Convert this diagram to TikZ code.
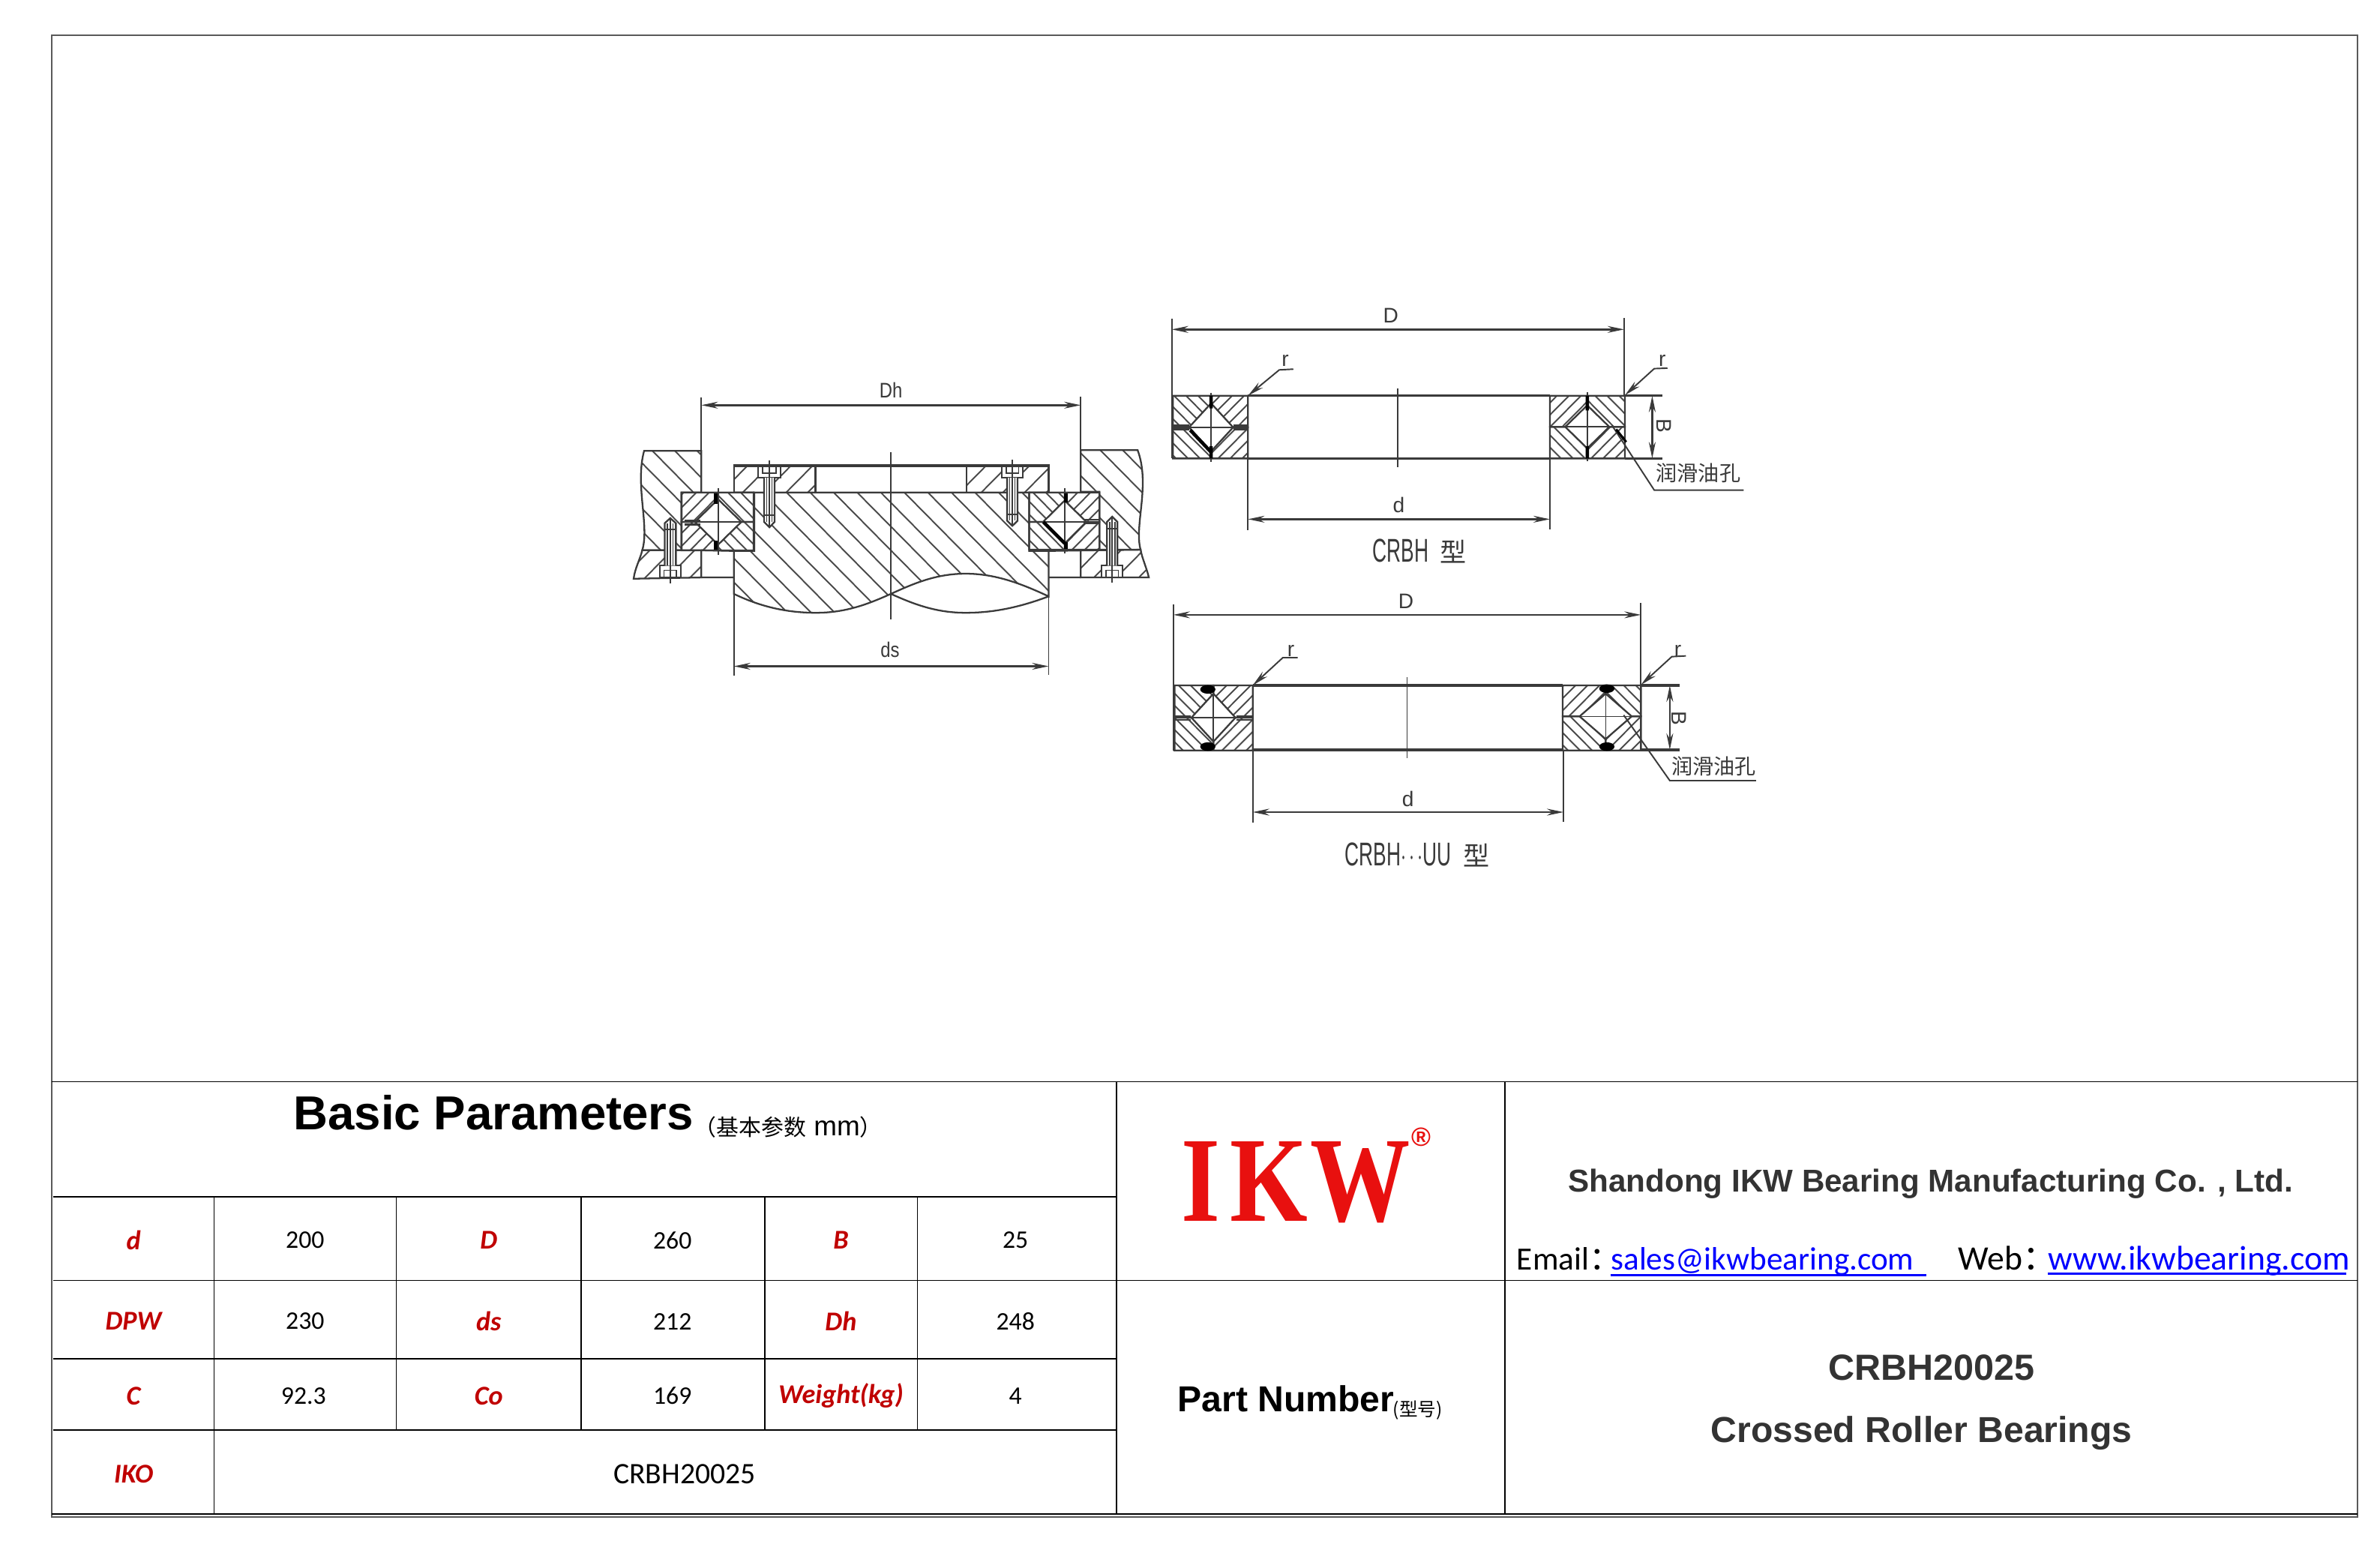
\documentclass[tikz,border=0pt]{standalone}
\usepackage{fontspec}
\usepackage{graphicx}
\usetikzlibrary{arrows.meta}
\setmainfont{Carlito}
\newfontfamily\lib{Liberation Sans}
\newfontfamily\cjk{Noto Sans CJK SC}
\newfontfamily\tms{Liberation Serif}
\definecolor{ink}{HTML}{3A3A3A}
\definecolor{hatchc}{HTML}{4A4A4A}
\definecolor{lblred}{HTML}{C00000}
\definecolor{logored}{HTML}{E8100F}
\definecolor{co}{HTML}{333333}
\tikzset{
 ol/.style={draw=ink,line width=.65pt},
 hl/.style={draw=hatchc,line width=.55pt},
 thinl/.style={draw=ink,line width=.45pt},
 thick1/.style={draw=ink,line width=.9pt},
 dimline/.style={draw=ink,line width=.75pt,{Stealth[length=2.2mm,width=.9mm]}-{Stealth[length=2.2mm,width=.9mm]}},
 lead/.style={draw=ink,line width=.55pt},
 leadtip/.style={draw=ink,line width=.55pt,-{Stealth[length=2.2mm,width=.9mm]}},
 seal/.style={draw=black,line width=1.3pt},
 dlabel/.style={text=ink,inner sep=0pt,font=\lib\fontsize{8}{8}\selectfont},
 tline/.style={draw=black,line width=.45pt},
 val/.style={text=black,inner sep=0pt,font=\fontsize{9.6}{10}\selectfont},
 key/.style={text=lblred,inner sep=0pt,font=\bfseries\itshape\fontsize{10.3}{11}\selectfont},
 linkline/.style={draw=blue,line width=.75pt},
}
% hatched region: slope, spacing, path
\newcommand{\hatchreg}[3]{%
 \begin{scope}\clip #3;
  \pgfmathsetmacro\hcNext{-1500+#2}%
  \foreach \hcv in {-1500,\hcNext,...,3200}{\draw[hl] (\hcv,0)--++(3000/#1,3000);}
 \end{scope}
 \draw[ol] #3;}
% ring with diamond: x0,x1,cx,top,mid,bot,half w,half h,spacing ; slopes in \sUL \sUR \sLL \sLR
\newcommand{\ringsec}[9]{%
 \hatchreg{\sUL}{#9}{(#1,#4)--(#3,#4)--(#3,#5-#8)--(#3-#7,#5)--(#1,#5)--cycle}
 \hatchreg{\sUR}{#9}{(#3,#4)--(#2,#4)--(#2,#5)--(#3+#7,#5)--(#3,#5-#8)--cycle}
 \hatchreg{\sLL}{#9}{(#1,#5)--(#3-#7,#5)--(#3,#5+#8)--(#3,#6)--(#1,#6)--cycle}
 \hatchreg{\sLR}{#9}{(#3+#7,#5)--(#2,#5)--(#2,#6)--(#3,#6)--(#3,#5+#8)--cycle}
 \draw[thinl] (#3-#7,#5)--(#3+#7,#5);
}
% bolt: cx, head half-w, shank half-w, head end, head/shank, shank end
\newcommand{\boltsh}[6]{%
 \draw[ol,fill=white] (#1-#2,#4) rectangle (#1+#2,#5);
 \draw[ol,fill=white] (#1-#3,#5) -- (#1-#3,#6) -- (#1,#6+0.12*#6-0.12*#5) -- (#1+#3,#6) -- (#1+#3,#5);
 \draw[thinl] (#1-#3*.5,#5)--(#1-#3*.5,#6) (#1+#3*.5,#5)--(#1+#3*.5,#6);
 \draw[thinl] (#1-#2*.6,#4)--(#1-#2*.6,#5*.6+#4*.4)--(#1+#2*.6,#5*.6+#4*.4)--(#1+#2*.6,#4);
 \draw[thinl] (#1-#3,#6*.85+#5*.15)--(#1+#3,#6*.85+#5*.15);
}
\begin{document}
\begin{tikzpicture}[x=0.020242cm,y=-0.020242cm]
\useasboundingbox (0,0) rectangle (1568,1023.1);
\fill[white] (0,0) rectangle (1568,1023.1);
% frame
\draw[draw=black!65,line width=.6pt] (34,23) rectangle (1553,999.5);
% ---- table
\draw[tline] (34,712.5)--(1553,712.5);
\draw[tline] (35,788.5)--(735.5,788.5);
\draw[tline] (35,843.5)--(1553,843.5);
\draw[tline] (35,895)--(735.5,895);
\draw[tline] (35,942)--(735.5,942);
\draw[tline] (34,997.5)--(1553,997.5);
\draw[tline] (735.5,712.5)--(735.5,997.5);
\draw[tline] (991.5,712.5)--(991.5,997.5);
\draw[tline] (141,788.5)--(141,997.5);
\draw[tline] (261,788.5)--(261,942);
\draw[tline] (383,788.5)--(383,942);
\draw[tline] (504,788.5)--(504,942);
\draw[tline] (604.5,788.5)--(604.5,942);
% table text
\node[anchor=base west,inner sep=0pt,font=\lib\bfseries\fontsize{18.1}{20}\selectfont] (title) at (193,744) {Basic Parameters};
\node[anchor=base west,inner sep=0pt] (titlesub) at (457,748) {{\cjk\fontsize{8.5}{9}\selectfont （基本参数}{\lib\fontsize{10.5}{10}\selectfont\ mm}{\cjk\fontsize{8.5}{9}\selectfont ）}};
\node[key] (k1) at (88,817) {d};
\node[val] (v1) at (201,817) {200};
\node[key] (k2) at (322,817) {D};
\node[val] (v2) at (443,817) {260};
\node[key] (k3) at (554,817) {B};
\node[val] (v3) at (669,817) {25};
\node[key] (k4) at (88,870.5) {DPW};
\node[val] (v4) at (201,870.5) {230};
\node[key] (k5) at (322,870.5) {ds};
\node[val] (v5) at (443,870.5) {212};
\node[key] (k6) at (554,870.5) {Dh};
\node[val] (v6) at (669,870.5) {248};
\node[key] (k7) at (88,919.5) {C};
\node[val] (v7) at (200,919.5) {92.3};
\node[key] (k8) at (322,919.5) {Co};
\node[val] (v8) at (443,919.5) {169};
\node[key] (k9) at (554,919.5) {Weight(kg)};
\node[val] (v9) at (669,919.5) {4};
\node[key] (k10) at (88,971) {IKO};
\node[val,font=\fontsize{11.3}{12}\selectfont] (v10) at (451,971) {CRBH20025};
% logo
\node[inner sep=0pt,anchor=north west,text=logored] (logo) at (778,752) {\resizebox{3.05cm}{1.06cm}{\tms\bfseries I\kern.1em K\kern.02em W}};
\node[inner sep=0pt,text=logored,font=\lib\bfseries\fontsize{10}{10}\selectfont] (reg) at (936.5,749) {®};
% company
\node[inner sep=0pt,text=co,font=\lib\bfseries\fontsize{12}{12}\selectfont] (company) at (1272,780) {Shandong IKW Bearing Manufacturing Co. , Ltd.};
\node[anchor=base west,inner sep=0pt,font=\fontsize{12.3}{13}\selectfont] (email) at (999,836.5) {Email{\cjk：}};
\node[anchor=base west,inner sep=0pt,text=blue,font=\fontsize{12.3}{13}\selectfont] (emailv) at (1061,836.5) {sales@ikwbearing.com};
\node[anchor=base west,inner sep=0pt,font=\fontsize{13}{14}\selectfont] (web) at (1290,836.5) {Web{\cjk：}};
\node[anchor=base west,inner sep=0pt,text=blue,font=\fontsize{13}{14}\selectfont] (webv) at (1349,836.5) {www.ikwbearing.com};
\draw[linkline] (1061,840)--(1269,840);
\draw[linkline] (1349,839)--(1546,839);
% part number
\node[anchor=base west,inner sep=0pt,font=\lib\bfseries\fontsize{13.7}{14}\selectfont] (part) at (775.5,930) {Part Number};
\node[anchor=base west,inner sep=0pt,font=\cjk\fontsize{7}{7}\selectfont] (partsub) at (917.5,933) {(型号)};
\node[inner sep=0pt,text=co,font=\lib\bfseries\fontsize{13.8}{14}\selectfont] (pn) at (1272.5,901) {CRBH20025};
\node[inner sep=0pt,text=co,font=\lib\bfseries\fontsize{13.7}{14}\selectfont] (pname) at (1266,944) {Crossed Roller Bearings};
% ================= drawing 1 (in zoom coords)
\begin{scope}[shift={(394.8,186.8)},xscale=.2463,yscale=.1662]
 \hatchreg{1.5}{60}{(120,663)--(273,663)--(273,828)--(220,828)--(220,1057)--(115,1057) .. controls (135,960) and (95,800) .. (120,663)--cycle}
 \hatchreg{-1.5}{60}{(115,1057)--(273,1057)--(273,1165)--(92,1170) .. controls (95,1130) and (110,1090) .. (115,1057)--cycle}
 \hatchreg{1.5}{60}{(1440,660)--(1288,660)--(1288,825)--(1338,825)--(1338,1055)--(1448,1055) .. controls (1430,960) and (1475,800) .. (1440,660)--cycle}
 \hatchreg{-1.5}{60}{(1288,1058)--(1448,1055) .. controls (1452,1090) and (1465,1130) .. (1470,1165)--(1288,1165)--cycle}
 \hatchreg{-1.5}{58}{(360,718)--(578,718)--(578,828)--(360,828)--cycle}
 \hatchreg{-1.5}{58}{(983,718)--(1202,718)--(1202,828)--(983,828)--cycle}
 \draw[ol] (578,718)--(983,718) (360,725)--(1202,725);
 \hatchreg{1.5}{63}{(415,828)--(1150,828)--(1150,1060)--(1202,1060)--(1202,1240) .. controls (1130,1190) and (1060,1150) .. (980,1150) .. controls (900,1150) and (840,1190) .. (780,1230) .. controls (720,1270) and (660,1305) .. (580,1305) .. controls (500,1305) and (430,1280) .. (360,1230)--(360,1060)--(415,1060)--cycle}
 \draw[ol] (780,1230) .. controls (840,1270) and (900,1305) .. (980,1305) .. controls (1060,1305) and (1130,1280) .. (1202,1240);
 \draw[ol] (360,828)--(415,828) (273,1057)--(360,1060) (273,1165)--(360,1165) (1202,1060)--(1288,1058) (1202,1165)--(1288,1165) (1150,828)--(1202,828);
 % bearings
 \def\sUL{-1.5}\def\sUR{1.5}\def\sLL{-1.5}\def\sLR{1.5}
 \ringsec{220}{413}{318}{828}{945}{1058}{62}{90}{34}
 \def\sUL{1.5}\def\sUR{-1.5}\def\sLL{1.5}\def\sLR{-1.5}
 \ringsec{1150}{1338}{1245}{828}{945}{1055}{58}{85}{34}
 \draw[ol] (228,940)--(270,940) (228,955)--(270,955) (1295,935)--(1335,935) (1295,950)--(1335,950);
 \draw[thinl] (318,810)--(318,1075) (1245,810)--(1245,1070);
 \draw[seal] (312,832)--(312,872) (312,1020)--(312,1056) (1248,832)--(1248,868) (1248,1025)--(1248,1053);
 \draw[seal] (1188,945)--(1245,1030);
 % bolts
 \boltsh{455}{30}{14}{725}{770}{945}
 \boltsh{1105}{28}{14}{725}{770}{940}
 \boltsh{190}{28}{15}{1165}{1118}{950}
 \boltsh{1372}{28}{14}{1165}{1118}{945}
 \draw[thinl] (455,700)--(455,965) (1105,698)--(1105,960) (190,930)--(190,1190) (1372,925)--(1372,1185);
 % centre and dims
 \draw[thinl] (780,668)--(780,1330);
 \draw[lead] (273,452)--(273,663) (1288,447)--(1288,660) (360,1165)--(360,1555) (1202,1165)--(1202,1552);
 \draw[dimline] (273,482)--(1288,482);
 \draw[dimline] (360,1517)--(1202,1517);
 \node[dlabel] (lblDh) at (780,422) {\scalebox{.85}[1]{Dh}};
 \node[dlabel] (lblds) at (778,1451) {\scalebox{.85}[1]{ds}};
\end{scope}
% ================= drawing 2
\begin{scope}[shift={(760.9,192)},xscale=.2642,yscale=.1667]
 \def\sUL{1.6}\def\sUR{-1.6}\def\sLL{1.6}\def\sLR{-1.6}
 \ringsec{45}{232}{140}{412}{537}{660}{55}{95}{30}
 \draw[ol] (45,530)--(85,530) (45,545)--(85,545) (195,530)--(232,530) (195,545)--(232,545);
 \def\sUL{-1.6}\def\sUR{1.6}\def\sLL{1.6}\def\sLR{-1.6}
 \ringsec{985}{1172}{1078}{412}{535}{660}{55}{85}{30}
 \draw[thinl] (140,400)--(140,675) (1078,398)--(1078,672);
 \draw[seal] (140,412)--(140,462) (140,612)--(140,660) (1078,412)--(1078,470) (1078,612)--(1078,660) (88,548)--(140,635);
 \draw[thick1] (232,412)--(985,412) (232,660)--(985,660) (1172,412)--(1265,412) (1172,660)--(1265,660);
 \draw[thinl] (605,383)--(605,695);
 \draw[lead] (42,108)--(42,660) (1170,105)--(1170,410) (232,660)--(232,942) (985,660)--(985,940);
 \draw[dimline] (42,150)--(1170,150);
 \draw[dimline] (232,900)--(985,900);
 \draw[dimline] (1240,412)--(1240,660);
 \draw[leadtip] (345,307)--(310,310)--(232,412);
 \draw[leadtip] (1278,303)--(1245,305)--(1172,410);
 \draw[lead] (1468,785)--(1245,785)--(1140,530);
 \draw[seal,line width=.9pt] (1150,545)--(1175,595);
 \node[dlabel] (d2D) at (588,95) {D};
 \node[dlabel] (d2d) at (608,843) {d};
 \node[dlabel] (d2r1) at (325,274) {r};
 \node[dlabel] (d2r2) at (1265,274) {r};
 \node[dlabel,rotate=-90] (d2B) at (1270,530) {B};
 \node[dlabel,font=\cjk\fontsize{8}{8}\selectfont] (d2oil) at (1355,717) {润滑油孔};
 \node[dlabel,font=\fontsize{10}{10}\selectfont] (d2t) at (660,1026) {{\lib\fontsize{12.5}{13}\selectfont\scalebox{.6}[1]{CRBH}}\hspace{1.5mm}{\cjk\fontsize{10}{11}\selectfont 型}};
\end{scope}
% ================= drawing 3
\begin{scope}[shift={(760.6,379.8)},xscale=.2642,yscale=.166]
 \def\sUL{1.6}\def\sUR{-1.6}\def\sLL{1.6}\def\sLR{-1.6}
 \ringsec{50}{245}{147}{432}{560}{690}{55}{95}{30}
 \draw[ol] (50,553)--(90,553) (50,568)--(90,568) (205,553)--(245,553) (205,568)--(245,568);
 \def\sUL{-1.6}\def\sUR{1.6}\def\sLL{1.6}\def\sLR{-1.6}
 \ringsec{1018}{1213}{1125}{432}{555}{690}{65}{90}{30}
 \draw[thinl] (147,432)--(147,690) (1125,432)--(1125,690);
 \fill[black] (133,448) ellipse (19 and 17) (133,675) ellipse (19 and 17) (1128,445) ellipse (19 and 17) (1128,675) ellipse (19 and 17);
 \draw[thick1] (245,432)--(1018,432) (245,688)--(1018,688) (1213,432)--(1310,432) (1213,688)--(1310,688);
 \draw[thinl] (630,398)--(630,722);
 \draw[lead] (47,110)--(47,690) (1213,105)--(1213,430) (245,690)--(245,978) (1020,690)--(1020,975);
 \draw[dimline] (47,152)--(1213,152);
 \draw[dimline] (245,935)--(1020,935);
 \draw[dimline] (1285,432)--(1285,688);
 \draw[leadtip] (357,322)--(320,322)--(245,432);
 \draw[leadtip] (1325,315)--(1290,318)--(1213,430);
 \draw[lead] (1500,810)--(1285,810)--(1170,550);
 \node[dlabel] (d3D) at (627,97) {D};
 \node[dlabel] (d3d) at (632,882) {d};
 \node[dlabel] (d3r1) at (340,296) {r};
 \node[dlabel] (d3r2) at (1305,294) {r};
 \node[dlabel,rotate=-90] (d3B) at (1308,562) {B};
 \node[dlabel,font=\cjk\fontsize{8}{8}\selectfont] (d3oil) at (1395,752) {润滑油孔};
 \node[dlabel,font=\fontsize{10}{10}\selectfont] (d3t) at (655,1104) {{\lib\fontsize{12.5}{13}\selectfont\scalebox{.6}[1]{CRBH$\cdots$UU}}\hspace{1.5mm}{\cjk\fontsize{10}{11}\selectfont 型}};
\end{scope}
\end{tikzpicture}
\end{document}
